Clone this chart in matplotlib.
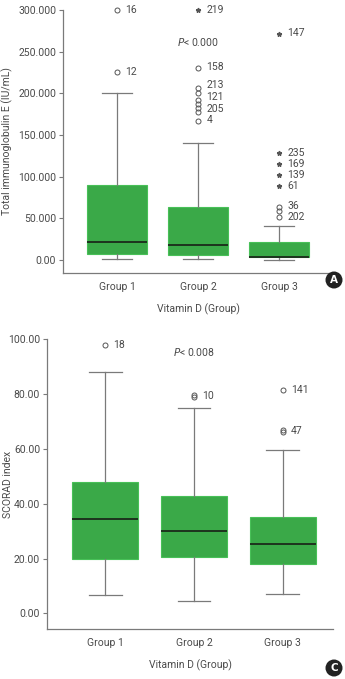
import matplotlib
matplotlib.use("Agg")
import matplotlib.pyplot as plt
from matplotlib.patches import Ellipse

plt.rcParams['font.family'] = ['Roboto', 'DejaVu Sans']

groups = ["Group 1", "Group 2", "Group 3"]

# Panel A: total IgE
ige_whislo = [1000, 1000, 0]
ige_q1 = [7200, 6000, 3200]
ige_med = [21200, 18000, 4000]
ige_q3 = [90000, 64000, 21200]
ige_whishi = [200000, 140000, 40800]
ige_circles = [[225800, 300000],
               [231000, 206200, 200200, 191800, 187000, 182200, 177400, 166600],
               [63200, 59200, 51200]]
ige_stars = [[], [300000], [271800, 128700, 115000, 102300, 88700]]
ige_labels = [("16", 0, 300000), ("12", 0, 225800),
              ("219", 1, 300000), ("158", 1, 231000), ("213", 1, 210000),
              ("121", 1, 195800), ("205", 1, 181000), ("4", 1, 167500),
              ("147", 2, 271800), ("235", 2, 128700), ("169", 2, 115000),
              ("139", 2, 102300), ("61", 2, 88700), ("36", 2, 65000),
              ("202", 2, 51200)]
ige_ticks = [0, 50000, 100000, 150000, 200000, 250000, 300000]
ige_ticklabels = ["0.00", "50.000", "100.000", "150.000", "200.000", "250.000", "300.000"]

# Panel C: SCORAD
sc_whislo = [6.7, 4.7, 6.9]
sc_q1 = [20.0, 20.6, 18.0]
sc_med = [34.4, 30.0, 25.2]
sc_q3 = [48.0, 42.9, 35.0]
sc_whishi = [88.0, 75.0, 59.5]
sc_circles = [[98.0], [79.6, 78.8], [81.4, 67.0, 66.2]]
sc_labels = [("18", 0, 98.0), ("10", 1, 79.2), ("141", 2, 81.4), ("47", 2, 66.6)]
sc_ticks = [0, 20, 40, 60, 80, 100]
sc_ticklabels = ["0.00", "20.00", "40.00", "60.00", "80.00", "100.00"]

GREEN = "#3aa948"
GRAY = "#7a7a7a"
TXT = "#4a4a4a"
W, H = 345, 679

fig = plt.figure(figsize=(W / 100, H / 100), dpi=100)


def panel(ax, whislo, q1, med, q3, whishi, circles, stars, labels, ticks, ticklabels,
          ylim, xlim, ylabel, ylabel_x, ptext, pty, letter, letter_px):
    stats = []
    for i in range(3):
        stats.append(dict(whislo=whislo[i], q1=q1[i], med=med[i], q3=q3[i],
                          whishi=whishi[i], fliers=[], label=groups[i]))
    pos = [1, 2, 3]
    ax.bxp(stats, positions=pos, widths=0.74, patch_artist=True, showfliers=False,
           boxprops=dict(facecolor=GREEN, edgecolor="#48c058", linewidth=0.8),
           medianprops=dict(color="#1a2a1a", linewidth=1.3),
           whiskerprops=dict(color=GRAY, linewidth=0.9),
           capprops=dict(color=GRAY, linewidth=0.9),
           capwidths=0.37)
    for i in range(3):
        if circles[i]:
            ax.plot([pos[i]] * len(circles[i]), circles[i], linestyle="none", marker="o",
                    markersize=3.6, markerfacecolor="none", markeredgecolor="#555555",
                    markeredgewidth=0.7, clip_on=False)
        if stars[i]:
            ax.plot([pos[i]] * len(stars[i]), stars[i], linestyle="none", marker="*",
                    markersize=3.4, color="#555555", clip_on=False)
    for lab, g, v in labels:
        ax.annotate(lab, (pos[g], v), xytext=(6, 0), textcoords="offset points",
                    va="center", ha="left", fontsize=7.5, color=TXT, annotation_clip=False)
    ax.set_ylim(*ylim)
    ax.set_xlim(*xlim)
    ax.set_yticks(ticks)
    ax.set_yticklabels(ticklabels)
    ax.set_xticks(pos)
    ax.set_xticklabels(groups)
    ax.tick_params(axis="x", length=0, pad=6.5, labelsize=7.5, colors=TXT)
    ax.tick_params(axis="y", length=3, width=0.8, pad=2, labelsize=7.5, colors=TXT)
    ax.tick_params(axis="y", color=GRAY)
    for s in ["top", "right"]:
        ax.spines[s].set_visible(False)
    for s in ["left", "bottom"]:
        ax.spines[s].set_color(GRAY)
        ax.spines[s].set_linewidth(0.9)
    ax.spines["left"].set_bounds(ylim[0], ticks[-1])
    ax.set_ylabel(ylabel, fontsize=7.5, color=TXT)
    ax.yaxis.set_label_coords(ylabel_x, 0.5)
    ax.set_xlabel("Vitamin D (Group)", fontsize=7.5, color=TXT, labelpad=8)
    ax.text(2, pty, "$P$< " + ptext, ha="center", va="center", fontsize=7.5, color=TXT)
    px, py = letter_px
    fx, fy = px / W, 1 - py / H
    fig.patches.append(Ellipse((fx, fy), 17 / W, 17 / H, transform=fig.transFigure,
                               facecolor="#222222", edgecolor="none"))
    fig.text(fx, fy, letter, ha="center", va="center", fontsize=7.5, color="white",
             fontweight="bold", family="DejaVu Sans")
    ax.set_facecolor("none")


ax1 = fig.add_axes([63 / W, 1 - 273 / H, 270 / W, 263 / H])
panel(ax1, ige_whislo, ige_q1, ige_med, ige_q3, ige_whishi, ige_circles, ige_stars,
      ige_labels, ige_ticks, ige_ticklabels, (-15600, 300000), (0.333, 3.667),
      "Total immunoglobulin E (IU/mL)", -0.187, "0.000", 262000, "A", (334, 280))

ax2 = fig.add_axes([47 / W, 1 - 629.3 / H, 286 / W, 290 / H])
panel(ax2, sc_whislo, sc_q1, sc_med, sc_q3, sc_whishi, sc_circles, [[], [], []],
      sc_labels, sc_ticks, sc_ticklabels, (-5.8, 100), (0.343, 3.567),
      "SCORAD index", -0.118, "0.008", 95.5, "C", (334, 668))

fig.savefig("out.png", dpi=100)
